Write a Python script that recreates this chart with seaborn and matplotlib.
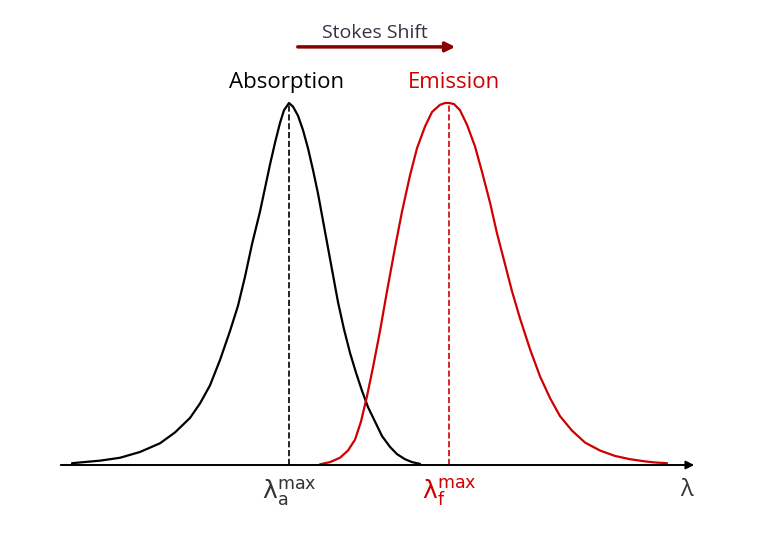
import matplotlib
matplotlib.use("Agg")
import matplotlib.pyplot as plt
import seaborn as sns

abs_x = [72,100,120,140,160,175,190,200,210,220,230,238,245,252,260,265,270,275,280,284,289,293,298,303,308,313,318,323,328,333,338,344,350,356,362,368,375,382,390,397,405,412,420]
abs_y = [0.005,0.012,0.02,0.036,0.06,0.09,0.13,0.17,0.22,0.29,0.37,0.44,0.52,0.61,0.70,0.765,0.83,0.89,0.945,0.98,1.0,0.99,0.965,0.925,0.875,0.815,0.75,0.675,0.60,0.525,0.45,0.375,0.31,0.255,0.205,0.16,0.12,0.08,0.05,0.03,0.016,0.008,0.003]
em_x = [320,330,340,348,355,361,367,373,380,387,395,402,410,417,425,432,440,445,449,454,460,467,475,482,490,497,505,512,520,530,540,550,560,572,585,600,615,630,645,655,667]
em_y = [0.002,0.008,0.02,0.04,0.07,0.12,0.19,0.27,0.37,0.48,0.60,0.70,0.80,0.875,0.935,0.975,0.995,1.0,1.0,0.997,0.98,0.94,0.88,0.81,0.725,0.64,0.555,0.48,0.405,0.32,0.245,0.185,0.135,0.095,0.062,0.04,0.025,0.016,0.01,0.007,0.005]
peak_abs, peak_em = 289, 449
RED = "#d00000"

sns.set_style("white")
plt.rcParams['font.family'] = ['Open Sans', 'DejaVu Sans']
fig = plt.figure(figsize=(7.68, 5.34), dpi=100)
ax = fig.add_axes([0, 0, 1, 1])
ax.set_xlim(0, 768)
ax.set_ylim(-69/362, 465/362)
ax.axis("off")

sns.lineplot(x=abs_x, y=abs_y, ax=ax, color="black", lw=1.6)
sns.lineplot(x=em_x, y=em_y, ax=ax, color=RED, lw=1.6)
ax.plot([peak_abs, peak_abs], [0, 1], ls="--", color="black", lw=1.2)
ax.plot([peak_em, peak_em], [0, 1], ls="--", color=RED, lw=1.2)
ax.annotate("", xy=(697, 0), xytext=(58, 0),
            arrowprops=dict(arrowstyle="-|>", color="black", lw=1.4, mutation_scale=12))
ax.annotate("", xy=(458, 1.155), xytext=(295, 1.155),
            arrowprops=dict(arrowstyle="-|>", color="#8b0000", lw=2.5, mutation_scale=14))
ax.text(287, 1.058, "Absorption", ha="center", va="center", fontsize=16, color="black")
ax.text(454, 1.058, "Emission", ha="center", va="center", fontsize=16, color=RED)
ax.text(375, 1.193, "Stokes Shift", ha="center", va="center", fontsize=14, color="#333344")
ax.text(289, -0.075, r"$\mathrm{\lambda_a^{max}}$", ha="center", va="center", fontsize=18, color="#333333")
ax.text(449, -0.075, r"$\mathrm{\lambda_f^{max}}$", ha="center", va="center", fontsize=18, color=RED)
ax.text(686, -0.07, "λ", ha="center", va="center", fontsize=17, color="#333333")
fig.savefig("out.png", dpi=100)
